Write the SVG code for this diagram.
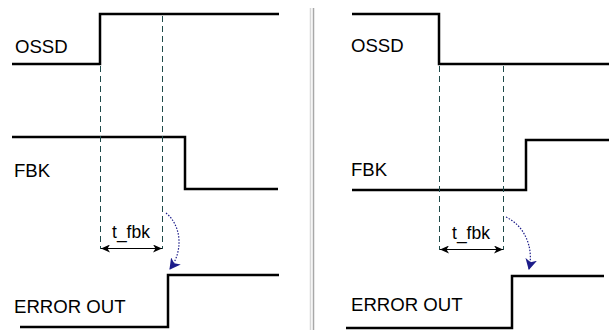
<svg xmlns="http://www.w3.org/2000/svg" width="609" height="330" viewBox="0 0 609 330">
<defs>
<style>
.sig{fill:none;stroke:#000;stroke-width:2.5;stroke-linejoin:miter}
.dash{fill:none;stroke:#1f4a4a;stroke-width:1;stroke-dasharray:6,4}
.dim{fill:none;stroke:#000;stroke-width:1.2}
.curve{fill:none;stroke:#1c1c8a;stroke-width:1.2;stroke-dasharray:1.5,1.5}
.lbl{font-family:"Liberation Sans",Arial,sans-serif;font-size:18.6px;fill:#000}
.tl{font-family:"Liberation Sans",Arial,sans-serif;font-size:17.5px;fill:#000;text-anchor:middle}
</style>
<marker id="ah" markerWidth="10" markerHeight="8" refX="9" refY="4" orient="auto-start-reverse" markerUnits="userSpaceOnUse">
<path d="M0,0 L9,4 L0,8 L2.5,4 Z" fill="#000"/>
</marker>
<marker id="bh" markerWidth="12" markerHeight="12" refX="10" refY="6" orient="auto" markerUnits="userSpaceOnUse">
<path d="M0,0 L11,6 L0,12 L3,6 Z" fill="#1c1c8a"/>
</marker>
</defs>
<rect width="609" height="330" fill="#fff"/>
<g id="separator">
<line x1="310.5" y1="8" x2="310.5" y2="330" stroke="#d8d8d8" stroke-width="1.5"/>
<line x1="313.5" y1="8" x2="313.5" y2="330" stroke="#a8a8a8" stroke-width="1.5"/>
</g>
<g id="left-ossd">
<path class="sig" d="M12,64 H100 V14 H279"/>
<text class="lbl" x="15" y="53">OSSD</text>
</g>
<g id="left-fbk">
<path class="sig" d="M12,137 H185 V189 H278"/>
<text class="lbl" x="14" y="177">FBK</text>
</g>
<g id="left-error">
<path class="sig" d="M20,327 H168 V275 H279"/>
<text class="lbl" x="14" y="313">ERROR OUT</text>
</g>
<g id="right-ossd">
<path class="sig" d="M352,14 H439 V64 H609"/>
<text class="lbl" x="351" y="52">OSSD</text>
</g>
<g id="right-fbk">
<path class="sig" d="M352,190 H526 V140 H609"/>
<text class="lbl" x="351" y="176">FBK</text>
</g>
<g id="right-error">
<path class="sig" d="M346,328 H512 V276 H604"/>
<text class="lbl" x="351" y="311">ERROR OUT</text>
</g>
<g id="connectors">
<line class="dash" x1="100.5" y1="66" x2="100.5" y2="249"/>
<line class="dash" x1="162.5" y1="16" x2="162.5" y2="249"/>
<line class="dash" x1="439.5" y1="66" x2="439.5" y2="250"/>
<line class="dash" x1="503.5" y1="66" x2="503.5" y2="250"/>
<line class="dim" x1="101" y1="248.5" x2="162" y2="248.5" marker-start="url(#ah)" marker-end="url(#ah)"/>
<line class="dim" x1="440" y1="249.5" x2="503" y2="249.5" marker-start="url(#ah)" marker-end="url(#ah)"/>
<path class="curve" d="M166,213 C181,225 184,250 170,269" marker-end="url(#bh)"/>
<path class="curve" d="M506,217 C525,226 534,248 529,269" marker-end="url(#bh)"/>
</g>
<g id="labels">
<text class="tl" x="131" y="238">t_fbk</text>
<text class="tl" x="471" y="239">t_fbk</text>
</g>
</svg>
